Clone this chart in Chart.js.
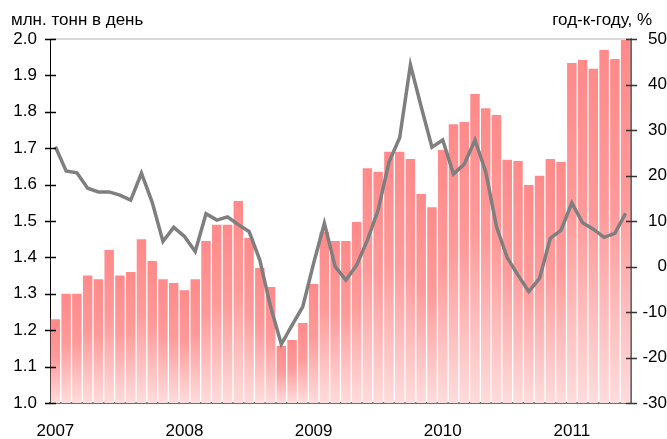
<!DOCTYPE html>
<html>
<head>
<meta charset="utf-8">
<script src="https://cdn.jsdelivr.net/npm/chart.js@4/dist/chart.umd.min.js"></script>
<style>
  html, body { margin: 0; padding: 0; background: #fff; }
  #chart { display: block; }
</style>
</head>
<body>
<canvas id="chart" width="667" height="439"></canvas>
<script>
// monthly data, Jan 2007 - Jun 2011
var months = [
  '2007-01', '2007-02', '2007-03', '2007-04', '2007-05', '2007-06', '2007-07', '2007-08', '2007-09', '2007-10', '2007-11', '2007-12',
  '2008-01', '2008-02', '2008-03', '2008-04', '2008-05', '2008-06', '2008-07', '2008-08', '2008-09', '2008-10', '2008-11', '2008-12',
  '2009-01', '2009-02', '2009-03', '2009-04', '2009-05', '2009-06', '2009-07', '2009-08', '2009-09', '2009-10', '2009-11', '2009-12',
  '2010-01', '2010-02', '2010-03', '2010-04', '2010-05', '2010-06', '2010-07', '2010-08', '2010-09', '2010-10', '2010-11', '2010-12',
  '2011-01', '2011-02', '2011-03', '2011-04', '2011-05', '2011-06'
];

// млн. тонн в день (bars, left axis)
var volume = [
  1.23, 1.30, 1.30, 1.35, 1.34, 1.42, 1.35, 1.36, 1.45, 1.39, 1.34, 1.33,
  1.31, 1.34, 1.445, 1.49, 1.49, 1.555, 1.453, 1.371, 1.319, 1.157, 1.173, 1.22,
  1.327, 1.47, 1.445, 1.445, 1.497, 1.645, 1.635, 1.69, 1.69, 1.67, 1.574, 1.538,
  1.695, 1.766, 1.772, 1.849, 1.81, 1.791, 1.668, 1.665, 1.599, 1.624, 1.67, 1.662,
  1.934, 1.942, 1.918, 1.97, 1.945, 1.997
];

// год-к-году, % (line, right axis)
var yoy = [
  26.3, 21.0, 20.6, 17.2, 16.4, 16.4, 15.7, 14.6, 20.5, 14.1, 5.5, 8.6,
  6.6, 3.3, 11.6, 10.2, 10.9, 9.2, 7.7, 1.4, -8.8, -17.1, -12.9, -8.8,
  0.7, 9.5, 0.0, -3.0, 0.3, 5.8, 12.4, 22.9, 28.3, 44.3, 35.1, 26.2,
  27.8, 20.3, 22.5, 27.8, 20.8, 8.7, 1.9, -1.9, -5.5, -2.6, 6.2, 8.0,
  14.0, 9.6, 8.2, 6.4, 7.3, 11.7
];

var leftTitle = 'млн. тонн в день';
var rightTitle = 'год-к-году, %';

var FONT = '"Liberation Sans Narrow", "Liberation Sans", Arial, sans-serif';

// gradient for each bar, from its top down to the axis
function barGradient(context) {
  var chart = context.chart;
  var area = chart.chartArea;
  if (!area || context.type !== 'data') return '#ff8a8a';
  var top = chart.scales.y.getPixelForValue(context.raw);
  var g = chart.ctx.createLinearGradient(0, top, 0, area.bottom);
  g.addColorStop(0, '#ff8a8a');
  g.addColorStop(0.45, '#ff9a9a');
  g.addColorStop(1, '#ffdcdc');
  return g;
}

// top line, crossing ticks and the two axis titles
var decor = {
  id: 'decor',
  afterDatasetsDraw: function (chart) {
    var ctx = chart.ctx;
    var area = chart.chartArea;
    ctx.save();
    ctx.strokeStyle = '#d9d9d9';
    ctx.lineWidth = 2;
    ctx.beginPath();
    ctx.moveTo(area.left, area.top);
    ctx.lineTo(area.right, area.top);
    ctx.stroke();

    var sides = [['y', area.left, '#000'], ['y1', area.right, '#333']];
    sides.forEach(function (s) {
      var scale = chart.scales[s[0]];
      ctx.strokeStyle = s[2];
      ctx.lineWidth = 1.5;
      scale.ticks.forEach(function (t, i) {
        var y = Math.round(scale.getPixelForTick(i)) + 0.5;
        ctx.beginPath();
        ctx.moveTo(s[1] - 5, y);
        ctx.lineTo(s[1] + 6, y);
        ctx.stroke();
      });
    });
    ctx.restore();
  },
  afterDraw: function (chart) {
    var ctx = chart.ctx;
    ctx.save();
    ctx.font = '17px ' + FONT;
    ctx.fillStyle = '#000';
    ctx.textBaseline = 'alphabetic';
    ctx.textAlign = 'left';
    ctx.fillText(leftTitle, 11, 25);
    ctx.textAlign = 'right';
    ctx.fillText(rightTitle, 652, 25);
    ctx.restore();
  }
};

var ctx = document.getElementById('chart').getContext('2d');
var chart = new Chart(ctx, {
  type: 'bar',
  data: {
    labels: months,
    datasets: [
      {
        type: 'line',
        data: yoy,
        yAxisID: 'y1',
        borderColor: '#7f7f7f',
        borderWidth: 3.5,
        pointRadius: 0,
        tension: 0,
        order: 0
      },
      {
        type: 'bar',
        data: volume,
        yAxisID: 'y',
        backgroundColor: barGradient,
        barPercentage: 0.88,
        categoryPercentage: 1,
        order: 1
      }
    ]
  },
  options: {
    responsive: false,
    animation: false,
    layout: { padding: { top: 39, left: 0, right: 0, bottom: 0 } },
    plugins: {
      legend: { display: false },
      tooltip: { enabled: false }
    },
    scales: {
      x: {
        offset: true,
        grid: { display: true, drawOnChartArea: false, drawTicks: false },
        border: { display: true, color: '#6e6e6e', width: 2 },
        ticks: {
          autoSkip: false,
          maxRotation: 0,
          padding: 18,
          color: '#000',
          font: { size: 17, family: FONT },
          callback: function (v, i) {
            var m = months[i];
            return m.slice(5) === '01' ? m.slice(0, 4) : '';
          }
        },
        afterFit: function (s) { s.height = 36; }
      },
      y: {
        position: 'left',
        min: 1.0,
        max: 2.0,
        grid: { display: true, drawOnChartArea: false, drawTicks: false },
        border: { display: true, color: '#000', width: 1 },
        ticks: {
          stepSize: 0.1,
          padding: 13,
          color: '#000',
          font: { size: 17, family: FONT },
          callback: function (v) { return v.toFixed(1); }
        },
        afterFit: function (s) { s.width = 50; }
      },
      y1: {
        position: 'right',
        min: -30,
        max: 50,
        grid: { display: true, drawOnChartArea: false, drawTicks: false },
        border: { display: true, color: '#666', width: 2 },
        ticks: {
          stepSize: 10,
          padding: 10,
          crossAlign: 'far',
          color: '#000',
          font: { size: 17, family: FONT }
        },
        afterFit: function (s) { s.width = 36; }
      }
    }
  },
  plugins: [decor]
});
</script>
</body>
</html>
